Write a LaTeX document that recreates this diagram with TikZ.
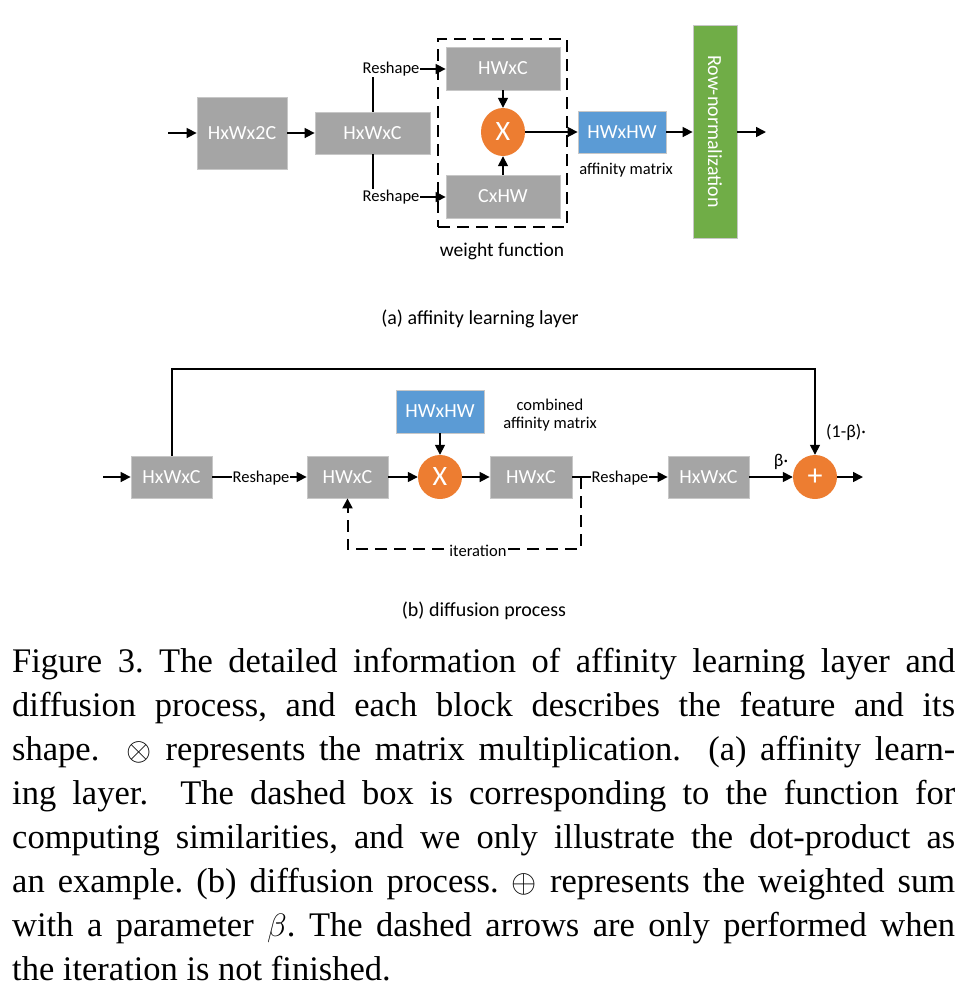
\documentclass[tikz,border=0pt]{standalone}
\usepackage{graphicx}
\usepackage{fontspec}
\setmainfont{Liberation Serif}
\newfontfamily\carl{Carlito}
\usetikzlibrary{arrows.meta,shapes.geometric}
\definecolor{boxgray}{HTML}{A5A5A5}
\definecolor{boxblue}{HTML}{5B9BD5}
\definecolor{boxgreen}{HTML}{70AD47}
\definecolor{boxorange}{HTML}{ED7D31}
\newcommand{\mysym}[1]{\scalebox{1.3}{$#1$}}
\tikzset{
  blk/.style={draw=black!22, line width=0.8pt, text=white, inner sep=0pt,
    font=\carl\fontsize{20}{24}\selectfont},
  gblk/.style={blk, fill=boxgray},
  bblk/.style={blk, fill=boxblue},
  op/.style={ellipse, fill=boxorange, text=white, inner sep=0pt,
    font=\carl\fontsize{28}{32}\selectfont},
  lbl/.style={font=\carl\fontsize{16.5}{19}\selectfont, inner sep=1pt},
  lblw/.style={lbl, fill=white},
  subcap/.style={font=\carl\fontsize{20}{24}\selectfont, inner sep=0pt},
  arr/.style={line width=1.6pt, -{Triangle[length=10pt,width=10pt]}},
  dsh/.style={line width=2pt, dash pattern=on 12pt off 7pt},
  capline/.style={anchor=base west, inner sep=0pt, font=\fontsize{34.5}{40}\selectfont\frenchspacing}
}
\begin{document}
\begin{tikzpicture}[x=1pt,y=-1pt]
\useasboundingbox (0,0) rectangle (964,1005);
% ---------- (a) ----------
\node[gblk, minimum width=90pt, minimum height=72pt] (a1) at (242,133) {HxWx2C};
\node[gblk, minimum width=115pt, minimum height=42pt] (a2) at (372.5,133) {HxWxC};
\node[gblk, minimum width=114pt, minimum height=43pt] (a3) at (503,68.5) {HWxC};
\node[gblk, minimum width=114pt, minimum height=43pt] (a4) at (503,196.5) {CxHW};
\node[op, minimum width=44pt, minimum height=48pt] (ax) at (503,132) {X};
\node[bblk, minimum width=88pt, minimum height=42pt] (a5) at (622,132) {HWxHW};
\node[blk, fill=boxgreen, minimum width=44pt, minimum height=213pt] (a6) at (715,131.5) {};
\node[rotate=-90, text=white, font=\carl\fontsize{20}{24}\selectfont] (a6t) at (a6.center) {Row-normalization};
\node[draw, dsh, minimum width=129pt, minimum height=188pt, inner sep=0pt] (wf) at (502.5,133) {};
\coordinate (ain) at (168,133);
\coordinate (aout) at (766,132);
\coordinate (atop) at (373,69);
\coordinate (abot) at (373,197);
\draw[arr] (ain) -- (a1.west);
\draw[arr] (a1.east) -- (a2.west);
\draw[arr] (a2.north -| atop) -- (atop) -- (a3.west |- atop);
\draw[arr] (a2.south -| abot) -- (abot) -- (a4.west |- abot);
\node[lblw] (rs1) at (391,69) {Reshape};
\node[lblw] (rs2) at (391,197) {Reshape};
\draw[arr] (a3.south) -- (ax.north);
\draw[arr] (a4.north) -- (ax.south);
\draw[arr] (ax.east) -- (a5.west);
\draw[arr] (a5.east) -- (a6.west |- a5.east);
\draw[arr] (a6.east |- aout) -- (aout);
\node[lbl] (am) at (626,170) {affinity matrix};
\node[subcap, font=\carl\fontsize{19.5}{23}\selectfont] (wft) at (502,251) {weight function};
\node[subcap] (capa) at (480,319) {(a) affinity learning layer};
% ---------- (b) ----------
\node[gblk, minimum width=81pt, minimum height=42pt] (b1) at (171.5,477) {HxWxC};
\node[gblk, minimum width=81pt, minimum height=42pt] (b2) at (347.5,477) {HWxC};
\node[op, minimum width=44pt, minimum height=44pt] (bx) at (440,477) {X};
\node[bblk, minimum width=88pt, minimum height=43pt] (bh) at (440,411.5) {HWxHW};
\node[gblk, minimum width=82pt, minimum height=42pt] (b3) at (531,477) {HWxC};
\node[gblk, minimum width=81pt, minimum height=42pt] (b4) at (708.5,477) {HxWxC};
\node[op, minimum width=44pt, minimum height=44pt, font=\carl\fontsize{30}{34}\selectfont] (bp) at (815,477) {+};
\coordinate (bin) at (103,477);
\coordinate (bout) at (863,477);
\coordinate (tl) at (172,369);
\coordinate (it1) at (581,477);
\coordinate (it2) at (581,549);
\coordinate (it3) at (347.5,549);
\draw[arr] (bin) -- (b1.west);
\draw[arr] (b1.east) -- (b2.west);
\node[lblw] (rs3) at (261,478) {Reshape};
\draw[arr] (b2.east) -- (bx.west);
\draw[arr] (bh.south) -- (bx.north);
\draw[arr] (bx.east) -- (b3.west);
\draw[arr] (b3.east) -- (b4.west);
\node[lblw] (rs4) at (620,478) {Reshape};
\draw[arr] (b4.east) -- (bp.west);
\draw[arr] (bp.east) -- (bout);
\draw[arr] (b1.north -| tl) -- (tl) -| (bp.north);
\draw[dsh, -{Triangle[length=10pt,width=10pt]}] (it1) -- (it2) -- (it3) -- (b2.south);
\node[lblw] (itl) at (478,551) {iteration};
\node[lbl] (cb1) at (550,405) {combined};
\node[lbl] (cb2) at (550,424) {affinity matrix};
\node[lbl, font=\carl\fontsize{18}{21}\selectfont] (bt1) at (846,432) {(1-β)·};
\node[lbl, font=\carl\fontsize{18}{21}\selectfont] (bt2) at (781,462) {β·};
\node[subcap] (capb) at (484,611) {(b) diffusion process};
% ---------- caption ----------
\node[capline] (c1) at (12,672) {\makebox[943pt][s]{Figure 3. The detailed information of affinity learning layer and}};
\node[capline] (c2) at (12,716) {\makebox[943pt][s]{diffusion process, and each block describes the feature and its}};
\node[capline] (c3) at (12,760) {\makebox[943pt][s]{shape.\ \ \mysym{\otimes} represents the matrix multiplication.\ \ (a) affinity learn-}};
\node[capline] (c4) at (12,804) {\makebox[943pt][s]{ing layer.\ \ The dashed box is corresponding to the function for}};
\node[capline] (c5) at (12,848) {\makebox[943pt][s]{computing similarities, and we only illustrate the dot-product as}};
\node[capline] (c6) at (12,892) {\makebox[943pt][s]{an example. (b) diffusion process. \mysym{\oplus} represents the weighted sum}};
\node[capline] (c7) at (12,936) {\makebox[943pt][s]{with a parameter \mysym{\beta}. The dashed arrows are only performed when}};
\node[capline] (c8) at (12,980) {the iteration is not finished.};
\end{tikzpicture}
\end{document}
